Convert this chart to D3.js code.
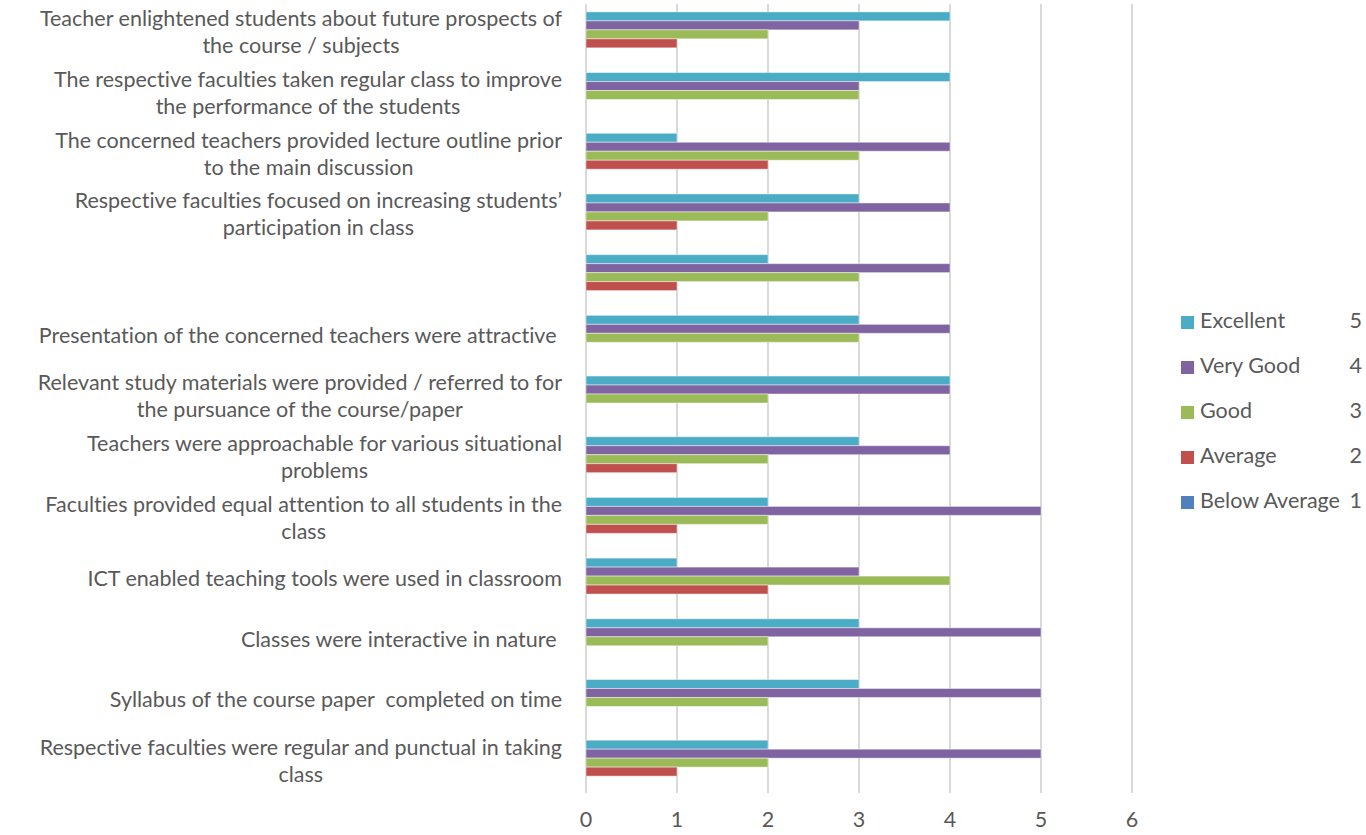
<!DOCTYPE html>
<html lang="en">
<head>
    <meta charset="UTF-8">
    <title>Feedback Bar Chart</title>
    <script src="https://d3js.org/d3.v7.min.js"></script>
    <style>
        body { margin: 0; background: #fff; }
        text { font-family: Lato, "Open Sans", sans-serif; fill: #595959; font-variant-ligatures: none; }
    </style>
</head>
<body>
    <script>
        // categories top to bottom, "\n" marks the line breaks of the picture
        const categories = [
            "Teacher enlightened students about future prospects of\nthe course / subjects",
            "The respective faculties taken regular class to improve\nthe performance of the students",
            "The concerned teachers provided lecture outline prior\nto the main discussion",
            "Respective faculties focused on increasing students\u2019\nparticipation in class",
            "",
            "Presentation of the concerned teachers were attractive ",
            "Relevant study materials were provided / referred to for\nthe pursuance of the course/paper",
            "Teachers were approachable for various situational\nproblems",
            "Faculties provided equal attention to all students in the\nclass",
            "ICT enabled teaching tools were used in classroom",
            "Classes were interactive in nature ",
            "Syllabus of the course paper  completed on time",
            "Respective faculties were regular and punctual in taking\nclass"
        ];

        const seriesNames = ["Excellent", "Very Good", "Good", "Average", "Below Average"];
        const seriesCodes = [5, 4, 3, 2, 1];
        const seriesColors = ["#4BACC6", "#8064A2", "#9BBB59", "#C0504D", "#4F81BD"];

        const excellent    = [4, 4, 1, 3, 2, 3, 4, 3, 2, 1, 3, 3, 2];
        const veryGood     = [3, 3, 4, 4, 4, 4, 4, 4, 5, 3, 5, 5, 5];
        const good         = [2, 3, 3, 2, 3, 3, 2, 2, 2, 4, 2, 2, 2];
        const average      = [1, 0, 2, 1, 1, 0, 0, 1, 1, 2, 0, 0, 1];
        const belowAverage = [0, 0, 0, 0, 0, 0, 0, 0, 0, 0, 0, 0, 0];
        const seriesValues = [excellent, veryGood, good, average, belowAverage];

        const xTicks = [0, 1, 2, 3, 4, 5, 6];

        const width = 1366, height = 835;
        const plotLeft = 586, plotRight = 1132, plotTop = 4, plotBottom = 793;
        const fontSize = "21.5px";

        const svg = d3.select("body").append("svg")
            .attr("width", width)
            .attr("height", height);

        const x = d3.scaleLinear().domain([0, 6]).range([plotLeft, plotRight]);

        const y = d3.scaleBand()
            .domain(d3.range(categories.length))
            .range([plotTop, plotBottom])
            .paddingInner(0.26)
            .paddingOuter(0.13);

        const ySub = d3.scaleBand()
            .domain(d3.range(seriesNames.length))
            .range([0, y.bandwidth()]);

        // gridlines
        svg.append("g").selectAll("line").data(xTicks).enter().append("line")
            .attr("x1", d => x(d)).attr("x2", d => x(d))
            .attr("y1", plotTop).attr("y2", plotBottom)
            .attr("stroke", "#d9d9d9")
            .attr("stroke-width", 2);

        // tick labels
        svg.append("g").selectAll("text").data(xTicks).enter().append("text")
            .attr("x", d => x(d))
            .attr("y", 822)
            .attr("text-anchor", "middle")
            .attr("dominant-baseline", "middle")
            .style("font-size", fontSize)
            .text(d => d);

        // bars
        const rows = [];
        categories.forEach((c, i) => {
            seriesValues.forEach((vals, s) => {
                if (vals[i] > 0) rows.push({ i: i, s: s, v: vals[i] });
            });
        });

        svg.append("g").selectAll("rect").data(rows).enter().append("rect")
            .attr("x", x(0))
            .attr("y", d => y(d.i) + ySub(d.s))
            .attr("width", d => x(d.v) - x(0))
            .attr("height", ySub.bandwidth())
            .attr("fill", d => seriesColors[d.s])
            .attr("stroke", "rgba(255,255,255,0.45)")
            .attr("stroke-width", 1);

        // category labels, lines centred within the block, block right-aligned
        const lineH = 27;
        const labelRight = 562;
        categories.forEach((c, i) => {
            if (!c) return;
            const lines = c.split("\n");
            const g = svg.append("g");
            const cy = y(i) + y.bandwidth() / 2;
            const texts = lines.map((ln, k) => g.append("text")
                .attr("y", cy + (k - (lines.length - 1) / 2) * lineH)
                .attr("dominant-baseline", "middle")
                .attr("text-anchor", "middle")
                .attr("xml:space", "preserve")
                .style("font-size", fontSize)
                .text(ln));
            const maxW = d3.max(texts, t => t.node().getComputedTextLength());
            texts.forEach(t => t.attr("x", labelRight - maxW / 2));
        });

        // legend
        const legend = svg.append("g").selectAll("g").data(seriesNames).enter().append("g")
            .attr("transform", (d, i) => `translate(1181, ${323 + i * 45})`);
        legend.append("rect")
            .attr("x", 0).attr("y", -7)
            .attr("width", 13).attr("height", 13)
            .attr("fill", (d, i) => seriesColors[i]);
        legend.append("text")
            .attr("x", 19)
            .attr("dominant-baseline", "middle")
            .style("font-size", fontSize)
            .text(d => d);
        legend.append("text")
            .attr("x", 181)
            .attr("text-anchor", "end")
            .attr("dominant-baseline", "middle")
            .style("font-size", fontSize)
            .text((d, i) => seriesCodes[i]);
    </script>
</body>
</html>
